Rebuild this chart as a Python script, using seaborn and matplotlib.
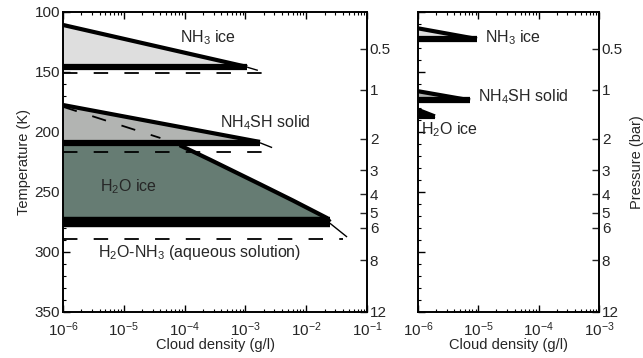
import matplotlib
matplotlib.use("Agg")
import matplotlib.pyplot as plt
import seaborn as sns

# ---------------- data (cloud density in g/l, temperature in K) ----------------
# Left panel
nh3_top_d = [1e-6, 1.07e-3]
nh3_top_T = [110.8, 145.8]
nh3_base_d = [1e-6, 1.07e-3]
nh3_base_T = [146.0, 146.0]
nh3_tail_d = [1.07e-3, 2.3e-3]
nh3_tail_T = [146.0, 151.0]
nh3_dash_d = [1e-6, 2.3e-3]
nh3_dash_T = [151.0, 151.0]

nh4sh_top_d = [1e-6, 1.74e-3]
nh4sh_top_T = [177.5, 208.3]
nh4sh_base_d = [1e-6, 1.74e-3]
nh4sh_base_T = [209.0, 209.0]
nh4sh_tail_d = [1.74e-3, 2.75e-3]
nh4sh_tail_T = [209.0, 213.0]
nh4sh_dash_d = [1e-6, 3.3e-3]
nh4sh_dash_T = [216.7, 216.7]
nh4sh_diag_d = [1e-6, 4.0e-5]
nh4sh_diag_T = [179.0, 205.0]

h2o_fill_d = [1e-6, 8.3e-5, 2.6e-4, 1.74e-3, 6.0e-3, 2.2e-2, 2.45e-2]
h2o_fill_T = [209.5, 211.0, 223.0, 243.5, 257.0, 271.7, 275.0]
h2o_top_d = [8.3e-5, 2.6e-4, 1.74e-3, 6.0e-3, 2.2e-2, 2.45e-2]
h2o_top_T = [211.0, 223.0, 243.5, 257.0, 271.7, 275.0]
h2o_base_d = [1e-6, 2.45e-2]
h2o_base_T = [275.0, 275.0]
h2o_tail_d = [2.45e-2, 4.7e-2]
h2o_tail_T = [276.0, 287.5]
h2o_dash_d = [1e-6, 4.1e-2]
h2o_dash_T = [289.5, 289.5]

# Right panel
r_nh3_top_d = [1e-6, 9.5e-6]
r_nh3_top_T = [113.6, 122.5]
r_nh3_base_d = [1e-6, 9.5e-6]
r_nh3_base_T = [122.5, 122.5]
r_nh4sh_top_d = [1e-6, 7.3e-6]
r_nh4sh_top_T = [166.0, 173.6]
r_nh4sh_base_d = [1e-6, 7.3e-6]
r_nh4sh_base_T = [173.6, 173.6]
r_h2o_top_d = [1e-6, 1.9e-6]
r_h2o_top_T = [181.5, 187.0]
r_h2o_base_d = [1e-6, 1.9e-6]
r_h2o_base_T = [187.5, 187.5]

# Pressure axis
pressure_labels = ["0.5", "1", "2", "3", "4", "5", "6", "8", "12"]
pressure_T = [130.8, 165.0, 205.8, 231.7, 251.7, 267.5, 280.0, 307.0, 350.0]

temp_ticks = [100, 150, 200, 250, 300, 350]
left_xticks = [1e-6, 1e-5, 1e-4, 1e-3, 1e-2, 1e-1]
right_xticks = [1e-6, 1e-5, 1e-4, 1e-3]

# ---------------- style ----------------
sns.set_theme(style="ticks")
plt.rcParams["font.family"] = ["Liberation Sans", "DejaVu Sans"]
plt.rcParams["mathtext.fontset"] = "custom"
plt.rcParams["mathtext.rm"] = "Liberation Sans"
plt.rcParams["mathtext.it"] = "Liberation Sans:italic"
plt.rcParams["mathtext.bf"] = "Liberation Sans:bold"

C_NH3 = "#dedede"
C_NH4SH = "#b2b4b2"
C_H2O = "#667c73"
FS_TICK = 11
FS_LAB = 10.5
FS_ANN = 11.5

fig = plt.figure(figsize=(6.43, 3.58), dpi=100)
fig.patch.set_facecolor("white")
axL = fig.add_axes([63 / 643, 46 / 358, 304 / 643, 300 / 358])
axR = fig.add_axes([418 / 643, 46 / 358, 181 / 643, 300 / 358])


def line(ax, x, y, lw, ls="-", z=3):
    sns.lineplot(x=x, y=y, ax=ax, sort=False, estimator=None, legend=False,
                 color="black", linewidth=lw, linestyle=ls, zorder=z,
                 solid_capstyle="butt")


DASH = (0, (8, 9))

# ---------- left panel ----------
axL.fill_between(nh3_top_d, nh3_top_T, nh3_base_T, color=C_NH3, lw=0, zorder=1)
axL.fill_between(nh4sh_top_d, nh4sh_top_T, nh4sh_base_T, color=C_NH4SH, lw=0, zorder=1)
axL.fill_between(h2o_fill_d, h2o_fill_T, [275.0] * len(h2o_fill_d), color=C_H2O, lw=0, zorder=1)

line(axL, nh3_top_d, nh3_top_T, 3.0)
line(axL, nh3_base_d, nh3_base_T, 4.5)
line(axL, nh3_tail_d, nh3_tail_T, 1.0, DASH)
line(axL, nh3_dash_d, nh3_dash_T, 1.3, DASH)

line(axL, nh4sh_top_d, nh4sh_top_T, 3.0)
line(axL, nh4sh_base_d, nh4sh_base_T, 4.5)
line(axL, nh4sh_tail_d, nh4sh_tail_T, 1.0)
line(axL, nh4sh_dash_d, nh4sh_dash_T, 1.3, DASH)
line(axL, nh4sh_diag_d, nh4sh_diag_T, 1.3, DASH)

line(axL, h2o_top_d, h2o_top_T, 3.0)
line(axL, h2o_base_d, h2o_base_T, 7.5)
line(axL, h2o_tail_d, h2o_tail_T, 1.0)
line(axL, h2o_dash_d, h2o_dash_T, 1.3, DASH)

axL.text(8.3e-5, 121.7, "NH$_3$ ice", fontsize=FS_ANN, va="center", ha="left")
axL.text(3.8e-4, 192.5, "NH$_4$SH solid", fontsize=FS_ANN, va="center", ha="left")
axL.text(4.1e-6, 245.8, "H$_2$O ice", fontsize=FS_ANN, va="center", ha="left", zorder=5)
axL.text(3.8e-6, 300.8, "H$_2$O-NH$_3$ (aqueous solution)", fontsize=FS_ANN,
         va="center", ha="left")

# ---------- right panel ----------
axR.fill_between(r_nh3_top_d, r_nh3_top_T, r_nh3_base_T, color=C_NH3, lw=0, zorder=1)
axR.fill_between(r_nh4sh_top_d, r_nh4sh_top_T, r_nh4sh_base_T, color=C_NH4SH, lw=0, zorder=1)
axR.fill_between(r_h2o_top_d, r_h2o_top_T, r_h2o_base_T, color="black", lw=0, zorder=1)

line(axR, r_nh3_top_d, r_nh3_top_T, 3.0)
line(axR, r_nh3_base_d, r_nh3_base_T, 4.5)
line(axR, r_nh4sh_top_d, r_nh4sh_top_T, 3.0)
line(axR, r_nh4sh_base_d, r_nh4sh_base_T, 4.5)
line(axR, r_h2o_top_d, r_h2o_top_T, 3.0)
line(axR, r_h2o_base_d, r_h2o_base_T, 3.0)

axR.text(1.3e-5, 121.7, "NH$_3$ ice", fontsize=FS_ANN, va="center", ha="left")
axR.text(1.0e-5, 170.8, "NH$_4$SH solid", fontsize=FS_ANN, va="center", ha="left")
axR.text(1.12e-6, 198.3, "H$_2$O ice", fontsize=FS_ANN, va="center", ha="left")

# ---------- axes formatting ----------
for ax, xt in ((axL, left_xticks), (axR, right_xticks)):
    ax.set_xscale("log")
    ax.set_xlim(xt[0], xt[-1])
    ax.set_ylim(350, 100)
    ax.set_xticks(xt)
    ax.set_yticks(temp_ticks)
    ax.set_yticks(list(range(100, 351, 10)), minor=True)
    ax.set_xlabel("Cloud density (g/l)", fontsize=FS_LAB, labelpad=-1)
    ax.set_ylabel("")
    for s in ax.spines.values():
        s.set_visible(True)
        s.set_linewidth(1.2)
        s.set_color("black")
    ax.tick_params(axis="x", which="both", direction="in", top=True, bottom=True,
                   labelsize=FS_TICK, pad=6, color="black")
    ax.tick_params(axis="x", which="major", length=5, width=1)
    ax.tick_params(axis="x", which="minor", length=2.5, width=0.8)
    ax.tick_params(axis="y", which="both", direction="in", left=True, right=False,
                   labelsize=FS_TICK, pad=2, color="black")
    ax.tick_params(axis="y", which="major", length=5, width=1)
    ax.tick_params(axis="y", which="minor", length=2.5, width=0.8)
    ax.set_facecolor("white")
    ax.grid(False)

axL.set_ylabel("Temperature (K)", fontsize=FS_LAB, labelpad=3)
axR.tick_params(axis="y", which="both", labelleft=False)

for ax, lab in ((axL, False), (axR, True)):
    tw = ax.twinx()
    tw.set_ylim(350, 100)
    tw.set_yticks(pressure_T)
    tw.set_yticklabels(pressure_labels)
    tw.set_yticks([], minor=True)
    tw.tick_params(axis="y", which="major", direction="in", length=5, width=1,
                   labelsize=FS_TICK, pad=2, right=True, left=False)
    tw.grid(False)
    for s in tw.spines.values():
        s.set_linewidth(1.2)
        s.set_color("black")
    if lab:
        tw.set_ylabel("Pressure (bar)", fontsize=FS_LAB, labelpad=5)

fig.savefig("out.png", dpi=100, facecolor="white")
